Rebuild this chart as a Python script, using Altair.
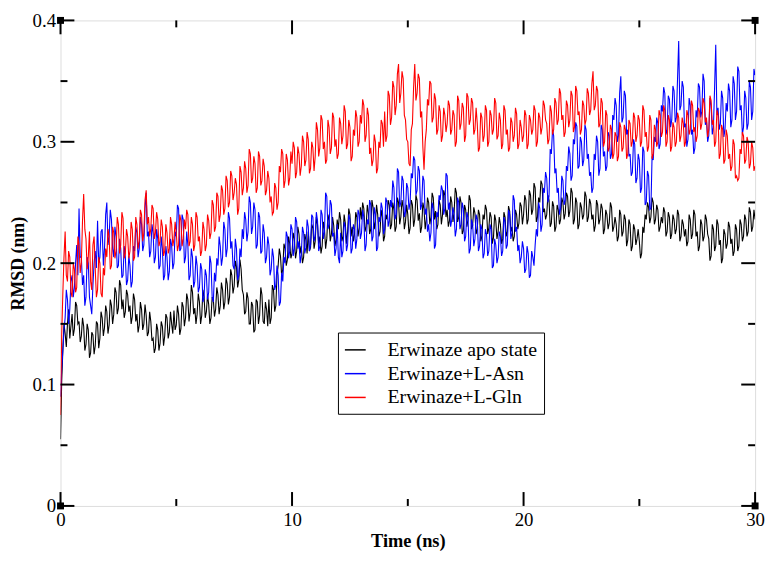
import altair as alt
import pandas as pd

STEP_NS = 0.05  # one frame every 0.05 ns, 0 .. 30 ns

series_names = ["Erwinaze apo state", "Erwinaze+L-Asn", "Erwinaze+L-Gln"]
series_colors = ["#000000", "#0000ff", "#ff0000"]

# RMSD (nm) (20 frames per ns per row)
apo = [
    0.055, 0.102, 0.128, 0.150, 0.142, 0.131, 0.150, 0.162, 0.138, 0.148, 0.158, 0.140, 0.146, 0.168, 0.165, 0.150, 0.152, 0.135, 0.140, 0.155,
    0.148, 0.128, 0.133, 0.150, 0.145, 0.122, 0.126, 0.143, 0.141, 0.125, 0.132, 0.152, 0.150, 0.130, 0.138, 0.160, 0.155, 0.140, 0.147, 0.165,
    0.160, 0.142, 0.149, 0.170, 0.165, 0.150, 0.158, 0.180, 0.176, 0.158, 0.163, 0.186, 0.182, 0.162, 0.170, 0.155, 0.160, 0.178, 0.174, 0.160,
    0.165, 0.150, 0.156, 0.175, 0.170, 0.152, 0.158, 0.143, 0.149, 0.168, 0.162, 0.145, 0.150, 0.166, 0.157, 0.140, 0.143, 0.160, 0.152, 0.136,
    0.138, 0.126, 0.130, 0.150, 0.145, 0.128, 0.134, 0.152, 0.148, 0.132, 0.140, 0.158, 0.155, 0.138, 0.143, 0.160, 0.150, 0.142, 0.161, 0.145,
    0.149, 0.165, 0.158, 0.141, 0.146, 0.168, 0.164, 0.148, 0.155, 0.175, 0.170, 0.152, 0.160, 0.182, 0.176, 0.158, 0.163, 0.150, 0.158, 0.175,
    0.168, 0.150, 0.157, 0.178, 0.172, 0.155, 0.160, 0.174, 0.166, 0.150, 0.155, 0.172, 0.170, 0.156, 0.162, 0.180, 0.174, 0.158, 0.165, 0.184,
    0.178, 0.162, 0.168, 0.188, 0.183, 0.166, 0.172, 0.195, 0.190, 0.175, 0.181, 0.202, 0.197, 0.180, 0.186, 0.203, 0.195, 0.178, 0.174, 0.158,
    0.160, 0.176, 0.171, 0.150, 0.150, 0.168, 0.165, 0.143, 0.145, 0.170, 0.168, 0.150, 0.157, 0.180, 0.174, 0.152, 0.150, 0.168, 0.162, 0.148,
    0.170, 0.150, 0.155, 0.182, 0.178, 0.160, 0.165, 0.190, 0.198, 0.212, 0.206, 0.190, 0.195, 0.216, 0.212, 0.198, 0.203, 0.222, 0.216, 0.204,
    0.208, 0.225, 0.220, 0.204, 0.210, 0.230, 0.224, 0.208, 0.214, 0.200, 0.205, 0.224, 0.219, 0.208, 0.226, 0.210, 0.213, 0.232, 0.229, 0.212,
    0.218, 0.238, 0.232, 0.216, 0.222, 0.208, 0.214, 0.234, 0.228, 0.212, 0.220, 0.240, 0.235, 0.218, 0.224, 0.238, 0.231, 0.214, 0.219, 0.236,
    0.228, 0.242, 0.236, 0.218, 0.222, 0.240, 0.233, 0.216, 0.226, 0.245, 0.240, 0.222, 0.230, 0.218, 0.224, 0.242, 0.238, 0.222, 0.229, 0.246,
    0.236, 0.250, 0.245, 0.226, 0.230, 0.248, 0.241, 0.224, 0.228, 0.252, 0.246, 0.228, 0.234, 0.248, 0.240, 0.222, 0.226, 0.244, 0.238, 0.218,
    0.222, 0.240, 0.236, 0.252, 0.248, 0.228, 0.232, 0.250, 0.244, 0.226, 0.230, 0.254, 0.250, 0.232, 0.238, 0.252, 0.246, 0.228, 0.234, 0.248,
    0.240, 0.224, 0.229, 0.252, 0.248, 0.230, 0.236, 0.256, 0.252, 0.235, 0.241, 0.225, 0.230, 0.250, 0.245, 0.228, 0.236, 0.254, 0.250, 0.232,
    0.238, 0.258, 0.254, 0.236, 0.243, 0.228, 0.232, 0.252, 0.248, 0.232, 0.240, 0.260, 0.256, 0.238, 0.244, 0.230, 0.235, 0.255, 0.250, 0.234,
    0.242, 0.262, 0.258, 0.234, 0.238, 0.255, 0.250, 0.224, 0.227, 0.248, 0.244, 0.230, 0.236, 0.256, 0.252, 0.228, 0.231, 0.246, 0.241, 0.224,
    0.228, 0.244, 0.240, 0.218, 0.222, 0.240, 0.236, 0.248, 0.244, 0.224, 0.229, 0.242, 0.238, 0.216, 0.221, 0.240, 0.235, 0.220, 0.226, 0.238,
    0.232, 0.216, 0.220, 0.242, 0.238, 0.222, 0.226, 0.247, 0.243, 0.226, 0.230, 0.218, 0.222, 0.244, 0.240, 0.228, 0.233, 0.250, 0.247, 0.232,
    0.240, 0.256, 0.252, 0.232, 0.236, 0.260, 0.256, 0.240, 0.244, 0.266, 0.262, 0.234, 0.238, 0.254, 0.250, 0.268, 0.265, 0.242, 0.245, 0.236,
    0.240, 0.256, 0.252, 0.230, 0.233, 0.251, 0.247, 0.226, 0.230, 0.248, 0.244, 0.232, 0.236, 0.254, 0.250, 0.236, 0.241, 0.258, 0.255, 0.238,
    0.243, 0.262, 0.258, 0.232, 0.236, 0.254, 0.250, 0.228, 0.232, 0.250, 0.246, 0.236, 0.240, 0.259, 0.255, 0.234, 0.238, 0.253, 0.249, 0.236,
    0.240, 0.226, 0.231, 0.252, 0.248, 0.232, 0.236, 0.249, 0.245, 0.224, 0.228, 0.244, 0.240, 0.228, 0.233, 0.250, 0.246, 0.226, 0.230, 0.238,
    0.232, 0.218, 0.222, 0.244, 0.240, 0.222, 0.226, 0.240, 0.236, 0.214, 0.219, 0.236, 0.232, 0.210, 0.214, 0.232, 0.228, 0.215, 0.220, 0.228,
    0.218, 0.204, 0.208, 0.230, 0.225, 0.240, 0.236, 0.250, 0.246, 0.233, 0.238, 0.254, 0.250, 0.232, 0.236, 0.248, 0.244, 0.226, 0.230, 0.238,
    0.233, 0.246, 0.242, 0.222, 0.226, 0.242, 0.238, 0.220, 0.224, 0.240, 0.236, 0.224, 0.228, 0.244, 0.240, 0.218, 0.222, 0.236, 0.232, 0.222,
    0.228, 0.214, 0.218, 0.240, 0.236, 0.220, 0.224, 0.244, 0.240, 0.222, 0.226, 0.210, 0.214, 0.236, 0.232, 0.218, 0.222, 0.240, 0.236, 0.224,
    0.220, 0.202, 0.206, 0.232, 0.228, 0.210, 0.214, 0.236, 0.232, 0.215, 0.219, 0.200, 0.204, 0.228, 0.224, 0.212, 0.216, 0.234, 0.230, 0.216,
    0.220, 0.206, 0.210, 0.232, 0.228, 0.210, 0.214, 0.236, 0.232, 0.218, 0.222, 0.240, 0.236, 0.222, 0.226, 0.246, 0.242, 0.226, 0.230, 0.244,
    0.236,
]

asn = [
    0.090, 0.112, 0.128, 0.145, 0.155, 0.178, 0.170, 0.150, 0.162, 0.185, 0.190, 0.172, 0.180, 0.200, 0.215, 0.190, 0.245, 0.205, 0.205, 0.182,
    0.190, 0.165, 0.172, 0.205, 0.200, 0.172, 0.165, 0.158, 0.182, 0.200, 0.210, 0.196, 0.235, 0.200, 0.205, 0.226, 0.228, 0.198, 0.212, 0.240,
    0.250, 0.215, 0.222, 0.244, 0.236, 0.212, 0.205, 0.230, 0.222, 0.196, 0.198, 0.220, 0.212, 0.188, 0.190, 0.214, 0.205, 0.182, 0.186, 0.206,
    0.198, 0.180, 0.185, 0.214, 0.210, 0.230, 0.225, 0.205, 0.212, 0.238, 0.232, 0.210, 0.215, 0.245, 0.258, 0.222, 0.226, 0.205, 0.210, 0.232,
    0.225, 0.200, 0.205, 0.228, 0.220, 0.195, 0.198, 0.222, 0.212, 0.186, 0.190, 0.214, 0.205, 0.186, 0.193, 0.220, 0.215, 0.195, 0.200, 0.226,
    0.222, 0.248, 0.245, 0.210, 0.212, 0.240, 0.236, 0.200, 0.205, 0.226, 0.215, 0.186, 0.190, 0.212, 0.205, 0.180, 0.185, 0.206, 0.198, 0.176,
    0.180, 0.200, 0.195, 0.168, 0.172, 0.195, 0.190, 0.170, 0.176, 0.206, 0.200, 0.172, 0.168, 0.192, 0.185, 0.204, 0.198, 0.222, 0.214, 0.198,
    0.205, 0.234, 0.228, 0.205, 0.212, 0.242, 0.237, 0.212, 0.218, 0.198, 0.195, 0.220, 0.212, 0.186, 0.190, 0.212, 0.205, 0.228, 0.220, 0.242,
    0.236, 0.218, 0.226, 0.255, 0.250, 0.224, 0.230, 0.250, 0.244, 0.212, 0.215, 0.242, 0.238, 0.208, 0.210, 0.232, 0.225, 0.200, 0.205, 0.222,
    0.215, 0.190, 0.195, 0.212, 0.205, 0.178, 0.182, 0.198, 0.190, 0.165, 0.168, 0.192, 0.185, 0.205, 0.200, 0.226, 0.222, 0.204, 0.210, 0.232,
    0.228, 0.206, 0.212, 0.238, 0.234, 0.212, 0.218, 0.200, 0.207, 0.230, 0.225, 0.208, 0.213, 0.236, 0.230, 0.210, 0.215, 0.240, 0.238, 0.218,
    0.222, 0.242, 0.235, 0.210, 0.214, 0.244, 0.240, 0.220, 0.226, 0.258, 0.255, 0.228, 0.232, 0.252, 0.248, 0.222, 0.225, 0.206, 0.212, 0.232,
    0.205, 0.200, 0.225, 0.205, 0.210, 0.234, 0.230, 0.210, 0.215, 0.240, 0.236, 0.208, 0.212, 0.232, 0.228, 0.212, 0.220, 0.244, 0.240, 0.220,
    0.225, 0.244, 0.238, 0.210, 0.215, 0.236, 0.232, 0.252, 0.248, 0.218, 0.222, 0.246, 0.240, 0.210, 0.213, 0.238, 0.234, 0.250, 0.245, 0.224,
    0.228, 0.254, 0.250, 0.230, 0.235, 0.252, 0.246, 0.268, 0.262, 0.236, 0.240, 0.278, 0.275, 0.246, 0.250, 0.272, 0.268, 0.238, 0.242, 0.266,
    0.262, 0.244, 0.250, 0.274, 0.270, 0.288, 0.285, 0.256, 0.260, 0.280, 0.276, 0.244, 0.248, 0.272, 0.268, 0.240, 0.245, 0.226, 0.232, 0.218,
    0.225, 0.250, 0.245, 0.212, 0.215, 0.242, 0.238, 0.256, 0.252, 0.264, 0.260, 0.240, 0.245, 0.274, 0.272, 0.244, 0.250, 0.230, 0.236, 0.246,
    0.240, 0.222, 0.228, 0.254, 0.250, 0.228, 0.232, 0.250, 0.245, 0.218, 0.222, 0.242, 0.238, 0.208, 0.212, 0.236, 0.232, 0.214, 0.220, 0.240,
    0.236, 0.210, 0.214, 0.232, 0.228, 0.204, 0.208, 0.228, 0.224, 0.206, 0.210, 0.232, 0.228, 0.196, 0.198, 0.220, 0.215, 0.200, 0.205, 0.226,
    0.222, 0.206, 0.210, 0.238, 0.234, 0.212, 0.215, 0.244, 0.240, 0.220, 0.225, 0.256, 0.252, 0.226, 0.230, 0.210, 0.215, 0.200, 0.205, 0.218,
    0.212, 0.192, 0.195, 0.214, 0.208, 0.188, 0.190, 0.210, 0.205, 0.198, 0.215, 0.228, 0.222, 0.250, 0.245, 0.226, 0.232, 0.262, 0.258, 0.275,
    0.270, 0.250, 0.255, 0.294, 0.290, 0.310, 0.305, 0.274, 0.278, 0.258, 0.262, 0.240, 0.245, 0.272, 0.268, 0.248, 0.252, 0.280, 0.276, 0.296,
    0.290, 0.268, 0.272, 0.302, 0.298, 0.316, 0.313, 0.278, 0.280, 0.304, 0.300, 0.280, 0.285, 0.314, 0.310, 0.286, 0.290, 0.272, 0.275, 0.258,
    0.262, 0.290, 0.285, 0.305, 0.300, 0.272, 0.278, 0.314, 0.310, 0.288, 0.292, 0.276, 0.280, 0.308, 0.305, 0.286, 0.290, 0.322, 0.318, 0.336,
    0.330, 0.300, 0.305, 0.340, 0.354, 0.316, 0.320, 0.342, 0.338, 0.306, 0.310, 0.288, 0.290, 0.272, 0.275, 0.302, 0.298, 0.266, 0.270, 0.290,
    0.285, 0.258, 0.262, 0.296, 0.292, 0.248, 0.250, 0.276, 0.272, 0.244, 0.245, 0.288, 0.285, 0.304, 0.300, 0.320, 0.315, 0.294, 0.298, 0.330,
    0.325, 0.345, 0.340, 0.306, 0.310, 0.338, 0.335, 0.312, 0.318, 0.346, 0.342, 0.316, 0.320, 0.352, 0.383, 0.326, 0.330, 0.350, 0.345, 0.312,
    0.315, 0.296, 0.302, 0.336, 0.330, 0.306, 0.310, 0.290, 0.295, 0.326, 0.320, 0.348, 0.345, 0.320, 0.325, 0.356, 0.350, 0.314, 0.318, 0.300,
    0.305, 0.336, 0.330, 0.306, 0.312, 0.344, 0.380, 0.322, 0.328, 0.310, 0.315, 0.342, 0.336, 0.304, 0.310, 0.332, 0.325, 0.348, 0.342, 0.312,
    0.318, 0.354, 0.348, 0.318, 0.325, 0.362, 0.358, 0.326, 0.330, 0.306, 0.312, 0.342, 0.336, 0.310, 0.315, 0.350, 0.345, 0.318, 0.325, 0.360,
    0.355,
]

gln = [
    0.075, 0.140, 0.175, 0.205, 0.226, 0.190, 0.185, 0.210, 0.205, 0.176, 0.172, 0.200, 0.195, 0.176, 0.180, 0.222, 0.215, 0.192, 0.200, 0.235,
    0.257, 0.228, 0.220, 0.195, 0.205, 0.226, 0.185, 0.178, 0.215, 0.222, 0.195, 0.172, 0.178, 0.205, 0.200, 0.175, 0.172, 0.196, 0.190, 0.212,
    0.205, 0.228, 0.222, 0.195, 0.198, 0.230, 0.225, 0.204, 0.210, 0.238, 0.232, 0.208, 0.215, 0.242, 0.237, 0.204, 0.208, 0.228, 0.222, 0.204,
    0.210, 0.234, 0.228, 0.202, 0.205, 0.238, 0.232, 0.212, 0.218, 0.244, 0.240, 0.218, 0.225, 0.252, 0.260, 0.232, 0.238, 0.222, 0.228, 0.248,
    0.245, 0.220, 0.225, 0.242, 0.236, 0.214, 0.218, 0.236, 0.230, 0.206, 0.210, 0.232, 0.225, 0.208, 0.212, 0.238, 0.232, 0.214, 0.220, 0.234,
    0.225, 0.210, 0.215, 0.240, 0.235, 0.214, 0.220, 0.236, 0.228, 0.244, 0.240, 0.214, 0.218, 0.238, 0.232, 0.210, 0.215, 0.242, 0.238, 0.218,
    0.222, 0.206, 0.210, 0.234, 0.228, 0.210, 0.215, 0.240, 0.235, 0.220, 0.225, 0.252, 0.248, 0.226, 0.230, 0.258, 0.255, 0.234, 0.240, 0.264,
    0.260, 0.240, 0.245, 0.272, 0.268, 0.246, 0.250, 0.276, 0.272, 0.252, 0.258, 0.270, 0.265, 0.240, 0.245, 0.280, 0.275, 0.256, 0.262, 0.284,
    0.278, 0.258, 0.264, 0.294, 0.290, 0.266, 0.270, 0.288, 0.282, 0.258, 0.262, 0.292, 0.288, 0.264, 0.268, 0.286, 0.280, 0.256, 0.260, 0.276,
    0.270, 0.250, 0.255, 0.240, 0.242, 0.266, 0.262, 0.244, 0.250, 0.280, 0.275, 0.294, 0.290, 0.262, 0.268, 0.290, 0.285, 0.264, 0.270, 0.292,
    0.282, 0.300, 0.295, 0.270, 0.275, 0.296, 0.290, 0.272, 0.280, 0.305, 0.300, 0.280, 0.285, 0.308, 0.302, 0.274, 0.278, 0.300, 0.295, 0.276,
    0.288, 0.316, 0.310, 0.288, 0.295, 0.322, 0.318, 0.294, 0.300, 0.282, 0.285, 0.318, 0.312, 0.290, 0.295, 0.324, 0.320, 0.296, 0.302, 0.286,
    0.290, 0.320, 0.315, 0.298, 0.305, 0.330, 0.325, 0.294, 0.298, 0.318, 0.312, 0.284, 0.288, 0.310, 0.305, 0.326, 0.320, 0.296, 0.300, 0.322,
    0.315, 0.335, 0.330, 0.300, 0.305, 0.328, 0.322, 0.290, 0.295, 0.280, 0.285, 0.306, 0.300, 0.274, 0.278, 0.300, 0.295, 0.318, 0.315, 0.296,
    0.325, 0.300, 0.305, 0.342, 0.338, 0.314, 0.320, 0.350, 0.345, 0.322, 0.330, 0.356, 0.364, 0.332, 0.340, 0.358, 0.352, 0.322, 0.318, 0.302,
    0.300, 0.282, 0.280, 0.310, 0.315, 0.345, 0.364, 0.334, 0.340, 0.356, 0.352, 0.320, 0.325, 0.296, 0.277, 0.300, 0.310, 0.335, 0.330, 0.350,
    0.348, 0.316, 0.320, 0.340, 0.335, 0.306, 0.310, 0.330, 0.325, 0.300, 0.305, 0.328, 0.322, 0.308, 0.315, 0.334, 0.330, 0.306, 0.310, 0.326,
    0.322, 0.296, 0.300, 0.338, 0.334, 0.310, 0.315, 0.332, 0.328, 0.300, 0.305, 0.340, 0.337, 0.314, 0.318, 0.336, 0.332, 0.306, 0.310, 0.328,
    0.315, 0.292, 0.295, 0.324, 0.320, 0.300, 0.305, 0.330, 0.326, 0.296, 0.300, 0.326, 0.322, 0.306, 0.310, 0.336, 0.332, 0.302, 0.305, 0.324,
    0.318, 0.294, 0.298, 0.330, 0.326, 0.306, 0.310, 0.292, 0.295, 0.320, 0.316, 0.300, 0.305, 0.328, 0.323, 0.294, 0.298, 0.318, 0.312, 0.300,
    0.305, 0.326, 0.322, 0.294, 0.298, 0.322, 0.318, 0.306, 0.310, 0.330, 0.326, 0.296, 0.300, 0.324, 0.320, 0.306, 0.312, 0.334, 0.330, 0.318,
    0.315, 0.298, 0.302, 0.330, 0.325, 0.306, 0.310, 0.336, 0.332, 0.314, 0.318, 0.344, 0.340, 0.318, 0.322, 0.304, 0.308, 0.334, 0.330, 0.312,
    0.318, 0.342, 0.338, 0.308, 0.312, 0.346, 0.342, 0.322, 0.325, 0.306, 0.310, 0.334, 0.330, 0.314, 0.318, 0.344, 0.340, 0.322, 0.326, 0.348,
    0.358, 0.326, 0.330, 0.346, 0.342, 0.312, 0.315, 0.336, 0.332, 0.296, 0.300, 0.326, 0.322, 0.292, 0.295, 0.314, 0.310, 0.286, 0.290, 0.308,
    0.305, 0.284, 0.288, 0.316, 0.312, 0.292, 0.295, 0.314, 0.310, 0.286, 0.290, 0.318, 0.315, 0.296, 0.300, 0.324, 0.320, 0.300, 0.305, 0.322,
    0.318, 0.296, 0.300, 0.330, 0.326, 0.304, 0.308, 0.292, 0.296, 0.322, 0.318, 0.286, 0.290, 0.314, 0.310, 0.296, 0.300, 0.326, 0.322, 0.304,
    0.308, 0.330, 0.326, 0.296, 0.300, 0.322, 0.318, 0.292, 0.296, 0.316, 0.312, 0.296, 0.300, 0.324, 0.320, 0.300, 0.305, 0.320, 0.315, 0.296,
    0.300, 0.326, 0.322, 0.306, 0.310, 0.334, 0.330, 0.308, 0.312, 0.300, 0.305, 0.328, 0.325, 0.310, 0.315, 0.336, 0.332, 0.316, 0.320, 0.304,
    0.310, 0.338, 0.334, 0.314, 0.318, 0.296, 0.300, 0.326, 0.322, 0.286, 0.290, 0.314, 0.310, 0.282, 0.285, 0.310, 0.305, 0.286, 0.290, 0.276,
    0.280, 0.302, 0.298, 0.270, 0.272, 0.268, 0.270, 0.294, 0.290, 0.308, 0.305, 0.282, 0.285, 0.304, 0.300, 0.278, 0.282, 0.300, 0.295, 0.276,
    0.280,
]

x_major = [0, 10, 20, 30]
x_minor = [5, 15, 25]
y_major = [0.0, 0.1, 0.2, 0.3, 0.4]
y_minor = [0.05, 0.15, 0.25, 0.35]
corner_x = [0, 30, 0, 30]
corner_y = [0.0, 0.0, 0.4, 0.4]

W, H = 701, 490
FONT = "Liberation Serif"

rows = []
for name, vals in zip(series_names, [apo, asn, gln]):
    for i, v in enumerate(vals):
        rows.append({"time": round(i * STEP_NS, 2), "rmsd": v, "series": name})
df = pd.DataFrame(rows)

xscale = alt.Scale(domain=[0, 30], nice=False, zero=False)
yscale = alt.Scale(domain=[0, 0.4], nice=False, zero=False)
xaxis = alt.Axis(values=x_major, format="d", title="Time (ns)", ticks=False,
                 domain=False, grid=False, labelFont=FONT, labelFontSize=19,
                 labelPadding=5, labelColor="black", titleFont=FONT,
                 titleFontSize=18.5, titleFontWeight="bold", titlePadding=2,
                 titleColor="black", labelFlush=False)
yaxis = alt.Axis(values=y_major, format=".1~f", title="RMSD (nm)", ticks=False,
                 domain=False, grid=False, labelFont=FONT, labelFontSize=19,
                 labelPadding=5, labelColor="black", titleFont=FONT,
                 titleFontSize=18, titleFontWeight="bold", titlePadding=5,
                 titleColor="black", labelFlush=False)

legend = alt.Legend(title=None, orient="none", legendX=280, legendY=315,
                    strokeColor="black", fillColor="white", padding=6,
                    symbolType="stroke", symbolSize=441, symbolStrokeWidth=1.5,
                    labelFont=FONT, labelFontSize=20, labelOffset=21,
                    rowPadding=2, labelLimit=400, labelColor="black")

color = alt.Color("series:N",
                  scale=alt.Scale(domain=series_names, range=series_colors),
                  legend=legend)

layers = []
for name in series_names:
    layers.append(
        alt.Chart(df).transform_filter(alt.datum.series == name)
        .mark_line(strokeWidth=1.1, clip=True)
        .encode(x=alt.X("time:Q", scale=xscale, axis=xaxis),
                y=alt.Y("rmsd:Q", scale=yscale, axis=yaxis),
                color=color)
    )

def xticks(vals, length):
    d = pd.DataFrame({"time": vals})
    bottom = alt.Chart(d).mark_rule(color="black", strokeWidth=2).encode(
        x=alt.X("time:Q", scale=xscale, axis=xaxis),
        y=alt.value(H), y2=alt.value(H - length))
    top = alt.Chart(d).mark_rule(color="black", strokeWidth=2).encode(
        x=alt.X("time:Q", scale=xscale, axis=xaxis),
        y=alt.value(0), y2=alt.value(length))
    return [bottom, top]

def yticks(vals, length):
    d = pd.DataFrame({"rmsd": vals})
    left = alt.Chart(d).mark_rule(color="black", strokeWidth=2).encode(
        y=alt.Y("rmsd:Q", scale=yscale, axis=yaxis),
        x=alt.value(0), x2=alt.value(length))
    right = alt.Chart(d).mark_rule(color="black", strokeWidth=2).encode(
        y=alt.Y("rmsd:Q", scale=yscale, axis=yaxis),
        x=alt.value(W), x2=alt.value(W - length))
    return [left, right]

tick_layers = (xticks(x_major, 14) + xticks(x_minor, 7)
               + yticks(y_major, 14) + yticks(y_minor, 7))

corners = alt.Chart(pd.DataFrame({"time": corner_x, "rmsd": corner_y})).mark_square(
    size=49, color="black", opacity=1, clip=False).encode(
    x=alt.X("time:Q", scale=xscale, axis=xaxis),
    y=alt.Y("rmsd:Q", scale=yscale, axis=yaxis))

chart = alt.layer(*layers, *tick_layers, corners).properties(
    width=W, height=H,
    autosize=alt.AutoSizeParams(type="none"),
    padding={"left": 53, "top": 10, "right": 11, "bottom": 47},
).configure_view(stroke="black", strokeWidth=2).configure(background="white")

chart.save("out.html", embed_options={"renderer": "svg", "actions": False})
